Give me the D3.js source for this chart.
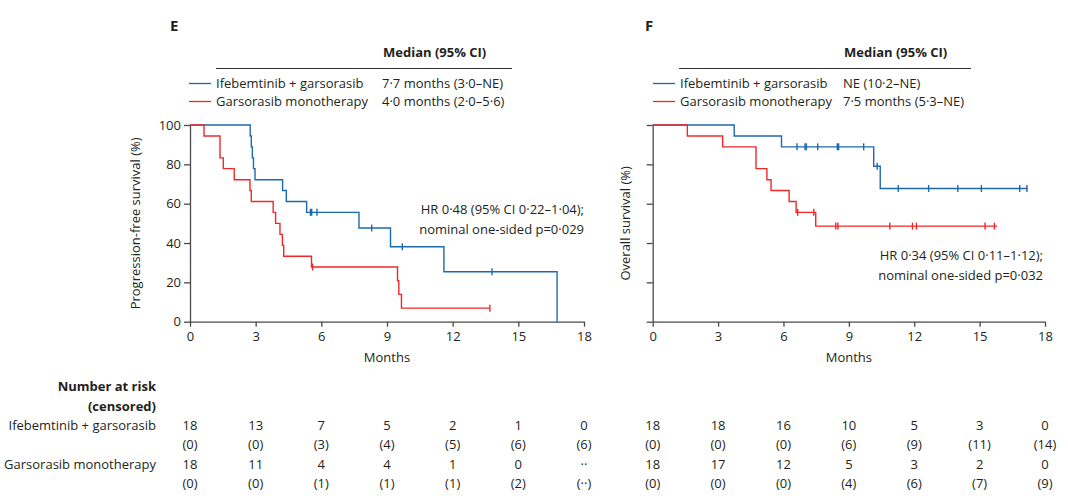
<!DOCTYPE html>
<html>
<head>
<meta charset="utf-8">
<script src="https://cdn.jsdelivr.net/npm/d3@7"></script>
<style>
  body { margin: 0; background: #fff; }
  svg text { font-family: "Open Sans", Lato, sans-serif; fill: #231f20; }
</style>
</head>
<body>
<div id="chart"></div>
<script>
// ---- data ----
const monthTicks = [0, 3, 6, 9, 12, 15, 18]
const survTicks = [0, 20, 40, 60, 80, 100]
const groupNames = ["Ifebemtinib + garsorasib", "Garsorasib monotherapy"]

// panel E: progression-free survival (step times in months, survival %)
const pfsComboTimes = [0, 2.75, 2.8, 2.85, 2.9, 2.97, 4.23, 4.4, 5.33, 7.72, 9.16, 11.6, 16.77]
const pfsComboSurv = [100, 94.4, 88.9, 83.3, 77.8, 72.2, 66.7, 61.1, 55.6, 47.6, 38.1, 25.4, 0]
const pfsComboCensorT = [5.5, 5.56, 5.8, 8.3, 9.7, 13.8]
const pfsComboCensorS = [55.6, 55.6, 55.6, 47.6, 38.1, 25.4]
const pfsComboEnd = 16.77

const pfsMonoTimes = [0, 0.64, 1.37, 1.52, 2.02, 2.74, 2.8, 3.8, 3.91, 4.11, 4.22, 4.28, 5.55, 9.48, 9.54, 9.66]
const pfsMonoSurv = [100, 94.4, 83.3, 77.8, 72.2, 66.7, 61.1, 55.6, 50, 44.4, 38.9, 33.3, 27.8, 20.8, 13.9, 6.9]
const pfsMonoCensorT = [5.6, 13.7]
const pfsMonoCensorS = [27.8, 6.9]
const pfsMonoEnd = 13.7

// panel F: overall survival
const osComboTimes = [0, 3.74, 5.91, 10.14, 10.44]
const osComboSurv = [100, 94.4, 88.9, 79.0, 67.7]
const osComboCensorT = [6.62, 6.99, 7.05, 7.57, 8.47, 8.53, 9.68, 10.3, 11.27, 12.66, 14.0, 15.08, 16.84, 17.17]
const osComboCensorS = [88.9, 88.9, 88.9, 88.9, 88.9, 88.9, 88.9, 79.0, 67.7, 67.7, 67.7, 67.7, 67.7, 67.7]
const osComboEnd = 17.2

const osMonoTimes = [0, 1.59, 3.21, 4.74, 5.24, 5.43, 6.26, 6.58, 7.48]
const osMonoSurv = [100, 94.4, 88.9, 77.8, 72.2, 66.7, 61.1, 55.6, 48.6]
const osMonoCensorT = [6.65, 7.39, 8.4, 8.5, 10.88, 11.92, 12.1, 15.25, 15.68]
const osMonoCensorS = [55.6, 55.6, 48.6, 48.6, 48.6, 48.6, 48.6, 48.6, 48.6]
const osMonoEnd = 15.8

// numbers at risk (censored)
const pfsComboRisk = ["18", "13", "7", "5", "2", "1", "0"]
const pfsComboCens = ["0", "0", "3", "4", "5", "6", "6"]
const pfsMonoRisk = ["18", "11", "4", "4", "1", "0", "··"]
const pfsMonoCens = ["0", "0", "1", "1", "1", "2", "··"]
const osComboRisk = ["18", "18", "16", "10", "5", "3", "0"]
const osComboCens = ["0", "0", "0", "6", "9", "11", "14"]
const osMonoRisk = ["18", "17", "12", "5", "3", "2", "0"]
const osMonoCens = ["0", "0", "0", "4", "6", "7", "9"]

const pfsMedians = ["7·7 months (3·0–NE)", "4·0 months (2·0–5·6)"]
const osMedians = ["NE (10·2–NE)", "7·5 months (5·3–NE)"]

const colors = ["#1d69b0", "#f0282a"]
const axisColor = "#4a4a4a"
const fs = "13px"

const svg = d3.select("#chart")
    .append("svg")
    .attr("width", 1068)
    .attr("height", 498)

function drawPanel(p) {
    const xScale = d3.scaleLinear().domain([0, 18]).range([p.x0, p.x1])
    const yScale = d3.scaleLinear().domain([0, 100]).range([321.7, 125])

    const g = svg.append("g")

    // panel letter
    g.append("text").attr("x", p.letterX).attr("y", 31)
        .style("font-size", "15px").style("font-weight", "700").text(p.letter)

    // legend header + rule
    g.append("text").attr("x", p.medX + 1).attr("y", 57)
        .style("font-size", fs).style("font-weight", "700").text("Median (95% CI)")
    g.append("line").attr("x1", p.ruleX0).attr("x2", p.ruleX1).attr("y1", 68.5).attr("y2", 68.5)
        .attr("stroke", "#333").attr("stroke-width", 1.2)

    groupNames.forEach(function (name, i) {
        const yy = 83.5 + i * 18
        g.append("line").attr("x1", p.legX).attr("x2", p.legX + 22).attr("y1", yy).attr("y2", yy)
            .attr("stroke", colors[i]).attr("stroke-width", 1.3)
        g.append("text").attr("x", p.legX + 27).attr("y", yy + 4.5)
            .style("font-size", fs).text(name)
        g.append("text").attr("x", p.medX).attr("y", yy + 4.5)
            .style("font-size", fs).text(p.medians[i])
    })

    // axes
    const xAxis = g.append("g")
        .attr("transform", `translate(0,${yScale(0)})`)
        .call(d3.axisBottom(xScale).tickValues(monthTicks).tickSize(5).tickSizeOuter(0).tickPadding(5))
    const yAxis = g.append("g")
        .attr("transform", `translate(${p.x0},0)`)
        .call(d3.axisLeft(yScale).tickValues(survTicks).tickSize(6).tickSizeOuter(0).tickPadding(3)
            .tickFormat(p.yLabels ? d3.format("d") : ""))
    ;[xAxis, yAxis].forEach(function (a) {
        a.select(".domain").attr("stroke", axisColor).attr("stroke-width", 1.3)
        a.selectAll(".tick line").attr("stroke", axisColor).attr("stroke-width", 1.3)
        a.selectAll(".tick text").style("font-size", fs).attr("fill", "#231f20")
            .style("font-family", "'Open Sans', Lato, sans-serif")
    })

    g.append("text").attr("x", (p.x0 + p.x1) / 2).attr("y", 362)
        .attr("text-anchor", "middle").style("font-size", fs).text("Months")
    g.append("text")
        .attr("transform", `translate(${p.yLabelX},${yScale(50)}) rotate(-90)`)
        .attr("text-anchor", "middle").style("font-size", fs).text(p.yTitle)

    // curves
    const line = d3.line().curve(d3.curveStepAfter).x(d => xScale(d[0])).y(d => yScale(d[1]))
    p.series.forEach(function (s, i) {
        const pts = s.t.map((t, j) => [t, s.s[j]])
        pts.push([s.end, s.s[s.s.length - 1]])
        g.append("path").datum(pts)
            .attr("d", line)
            .attr("fill", "none")
            .attr("stroke", colors[i])
            .attr("stroke-width", 1.4)
        g.selectAll(null).data(s.ct.map((t, j) => [t, s.cs[j]]))
            .enter().append("line")
            .attr("x1", d => xScale(d[0])).attr("x2", d => xScale(d[0]))
            .attr("y1", d => yScale(d[1]) - 3.5).attr("y2", d => yScale(d[1]) + 3.5)
            .attr("stroke", colors[i]).attr("stroke-width", 1.4)
    })

    // HR annotation
    p.hr.forEach(function (txt, i) {
        g.append("text").attr("x", p.hrX).attr("y", p.hrY + i * 20)
            .attr("text-anchor", "end").style("font-size", fs).text(txt)
    })

    // numbers at risk
    p.risk.forEach(function (row, r) {
        const base = 430 + r * 38.5
        g.selectAll(null).data(row.n).enter().append("text")
            .attr("x", (d, k) => xScale(monthTicks[k])).attr("y", base)
            .attr("text-anchor", "middle").style("font-size", fs).text(d => d)
        g.selectAll(null).data(row.c).enter().append("text")
            .attr("x", (d, k) => xScale(monthTicks[k])).attr("y", base + 19.3)
            .attr("text-anchor", "middle").style("font-size", fs).text(d => `(${d})`)
    })
}

drawPanel({
    letter: "E", letterX: 170,
    x0: 190, x1: 584,
    ruleX0: 216, ruleX1: 512, legX: 189, medX: 382,
    medians: pfsMedians,
    yLabels: true, yLabelX: 140, yTitle: "Progression-free survival (%)",
    hr: ["HR 0·48 (95% CI 0·22–1·04);", "nominal one-sided p=0·029"], hrX: 584, hrY: 214,
    series: [
        {t: pfsComboTimes, s: pfsComboSurv, ct: pfsComboCensorT, cs: pfsComboCensorS, end: pfsComboEnd},
        {t: pfsMonoTimes, s: pfsMonoSurv, ct: pfsMonoCensorT, cs: pfsMonoCensorS, end: pfsMonoEnd}
    ],
    risk: [{n: pfsComboRisk, c: pfsComboCens}, {n: pfsMonoRisk, c: pfsMonoCens}]
})

drawPanel({
    letter: "F", letterX: 645,
    x0: 652.7, x1: 1045,
    ruleX0: 679, ruleX1: 971, legX: 653, medX: 843,
    medians: osMedians,
    yLabels: false, yLabelX: 630, yTitle: "Overall survival (%)",
    hr: ["HR 0·34 (95% CI 0·11–1·12);", "nominal one-sided p=0·032"], hrX: 1043, hrY: 260,
    series: [
        {t: osComboTimes, s: osComboSurv, ct: osComboCensorT, cs: osComboCensorS, end: osComboEnd},
        {t: osMonoTimes, s: osMonoSurv, ct: osMonoCensorT, cs: osMonoCensorS, end: osMonoEnd}
    ],
    risk: [{n: osComboRisk, c: osComboCens}, {n: osMonoRisk, c: osMonoCens}]
})

// risk table row labels
const labelX = 156
svg.append("text").attr("x", labelX).attr("y", 391).attr("text-anchor", "end")
    .style("font-size", fs).style("font-weight", "700").text("Number at risk")
svg.append("text").attr("x", labelX).attr("y", 410.5).attr("text-anchor", "end")
    .style("font-size", fs).style("font-weight", "700").text("(censored)")
groupNames.forEach(function (name, i) {
    svg.append("text").attr("x", labelX).attr("y", 430 + i * 38.5).attr("text-anchor", "end")
        .style("font-size", fs).text(name)
})
</script>
</body>
</html>
